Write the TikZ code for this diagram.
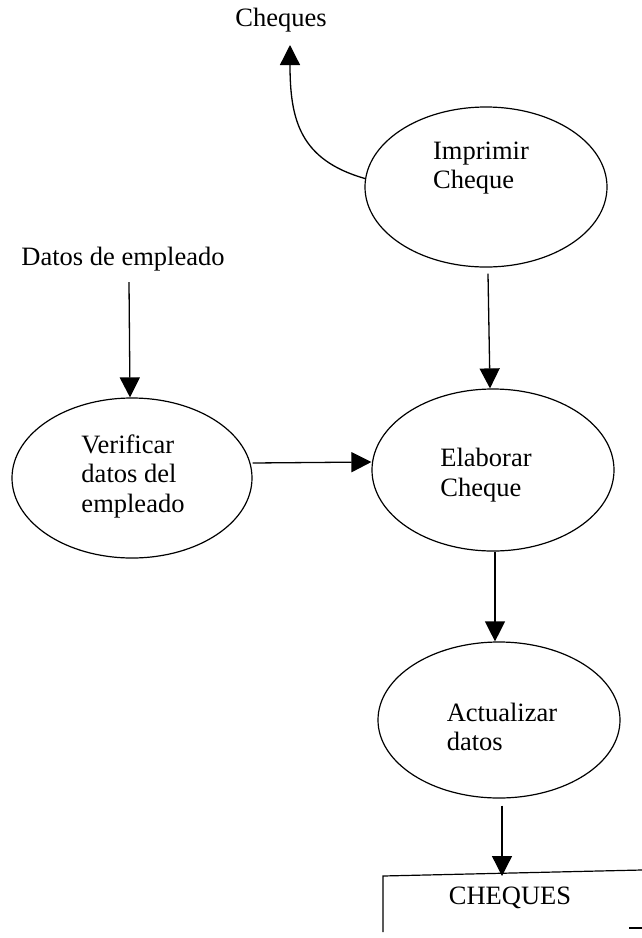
\documentclass[tikz,border=0pt]{standalone}
\usepackage{fontspec}
\setmainfont{Liberation Serif}
\usetikzlibrary{shapes.geometric,arrows.meta}
\tikzset{
  proc/.style={draw=black, line width=1.2pt, ellipse, inner sep=0pt},
  lbl/.style={align=left, inner sep=0pt, font=\fontsize{26.5}{29.5}\selectfont},
  flow/.style={draw=black, line width=1.3pt, -{Triangle[length=20pt,width=20pt]}},
  storeline/.style={draw=black, line width=1.2pt}
}
\begin{document}
\begin{tikzpicture}[x=1pt,y=-1pt]
\useasboundingbox[fill=white] (0,0) rectangle (642,938);
% processes
\node[proc, minimum width=242pt, minimum height=160pt] (imp) at (486,187) {};
\node[proc, minimum width=240pt, minimum height=160pt] (ver) at (132,478) {};
\node[proc, minimum width=242pt, minimum height=162pt] (elab) at (493,470) {};
\node[proc, minimum width=242pt, minimum height=156pt] (act) at (499,720) {};
% texts
\node[lbl] (timp) at (481,168) {Imprimir\\Cheque};
\node[lbl] (tver) at (133,476) {Verificar\\datos del\\empleado};
\node[lbl] (telab) at (486,475) {Elaborar\\Cheque};
\node[lbl] (tact) at (502,727) {Actualizar\\datos};
\node[lbl] (chq) at (281,20) {Cheques};
\node[lbl] (datos) at (123,259) {Datos de empleado};
\node[lbl] (store) at (510,898) {CHEQUES};
% store lines
\coordinate (stl) at (383,876);
\coordinate (str) at (642,870);
\coordinate (sbl) at (383,932);
\coordinate (sbr1) at (629,928);
\coordinate (sbr2) at (642,928);
\draw[storeline] (sbl) -- (stl) -- (str);
\draw[storeline] (sbr1) -- (sbr2);
% connectors
\coordinate (chqtip) at (290,45);
\draw[flow] (imp.176) .. controls (300,160) and (290,120) .. (chqtip);
\draw[flow] ([shift={(2pt,-6pt)}]imp.south) -- ([xshift=-3pt]elab.north);
\draw[flow] ([shift={(6pt,-11pt)}]datos.south) -- ([xshift=-2pt]ver.north);
\draw[flow] ([yshift=15pt]ver.east) -- ([yshift=8pt]elab.west);
\draw[flow] ([xshift=2pt]elab.south) -- ([xshift=-4pt]act.north);
\draw[flow] ([shift={(3pt,-7pt)}]act.south) -- ([xshift=119pt]stl);
\end{tikzpicture}
\end{document}
